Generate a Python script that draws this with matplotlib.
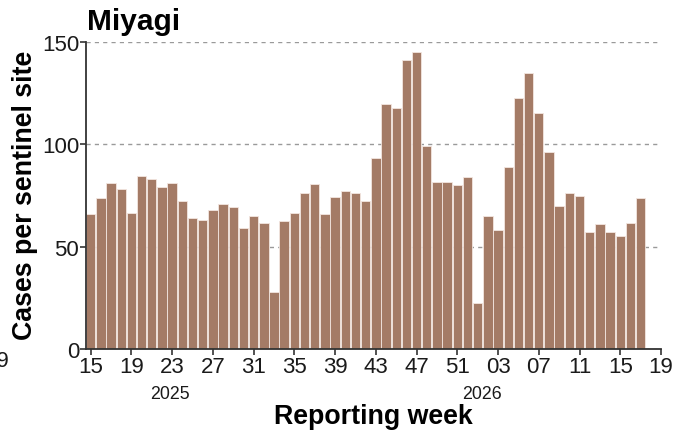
import matplotlib
matplotlib.use("Agg")
import matplotlib.pyplot as plt
import matplotlib.transforms as mtransforms
import numpy as np

plt.rcParams['font.family'] = ['Liberation Sans', 'DejaVu Sans']

# weekly values, 2025 W15 .. 2026 W17
weeks_2025 = list(range(15, 53))
weeks_2026 = list(range(1, 18))
vals_2025 = [66.0, 73.6, 81.0, 78.2, 66.3, 84.4, 83.1, 79.0, 81.0, 72.2,
             64.0, 63.0, 68.1, 70.8, 69.5, 59.0, 64.8, 61.4, 28.0, 62.5,
             66.3, 76.1, 80.6, 66.0, 74.1, 77.0, 76.2, 72.3, 93.2, 119.6,
             117.8, 141.4, 145.0, 99.0, 81.8, 81.4, 80.0, 83.9]
vals_2026 = [22.6, 64.8, 58.1, 89.1, 122.8, 134.9, 115.2, 96.1, 70.0, 76.1,
             74.9, 57.3, 60.9, 57.3, 55.2, 61.7, 73.6]

tick_labels = ["15", "19", "23", "27", "31", "35", "39", "43", "47", "51",
               "03", "07", "11", "15", "19"]
years = ["2025", "2026"]
year_pos = [7.8, 38.4]

values = vals_2025 + vals_2026
x = np.arange(len(values))

fig = plt.figure(figsize=(6.89, 4.39), dpi=100)
ax = fig.add_axes([86/689, 1-350/439, (661-86)/689, (350-43)/439])

ax.set_axisbelow(True)
ax.yaxis.grid(True, linestyle=(0, (3, 3)), color='#9a9a9a', linewidth=1.0)
ax.bar(x, values, width=0.92, color='#a47b66', edgecolor='#f3e6e0', linewidth=0.6)

ax.set_xlim(-0.46, 56)
ax.set_ylim(0, 150)
ax.set_yticks([0, 50, 100, 150])
ax.set_xticks(np.arange(0, 57, 4))
ax.set_xticklabels(tick_labels)
ax.tick_params(axis='both', labelsize=16, colors='#333333', labelcolor='#1a1a1a',
               length=4, width=1.2, pad=1)

for s in ['top', 'right']:
    ax.spines[s].set_visible(False)
for s in ['left', 'bottom']:
    ax.spines[s].set_color('#333333')
    ax.spines[s].set_linewidth(1.3)

trans = mtransforms.blended_transform_factory(ax.transData, fig.transFigure)
for yr, p in zip(years, year_pos):
    fig.text(p, 1-395/439, yr, transform=trans, ha='center', va='center',
             fontsize=12.8, color='#1a1a1a')
# stray tick label clipped at left edge
fig.text(-9.2, 1-362/439, "19", transform=trans, ha='center', va='center',
         fontsize=16, color='#1a1a1a')

fig.text(87/689, 1-30/439, "Miyagi", fontsize=21.5, fontweight='bold',
         ha='left', va='baseline')
fig.text(25/689, 1-195/439, "Cases per sentinel site", fontsize=19.3,
         fontweight='bold', rotation=90, ha='center', va='center')
fig.text(373/689, 1-417/439, "Reporting week", fontsize=19.3,
         fontweight='bold', ha='center', va='center')

fig.savefig("out.png", dpi=100)
